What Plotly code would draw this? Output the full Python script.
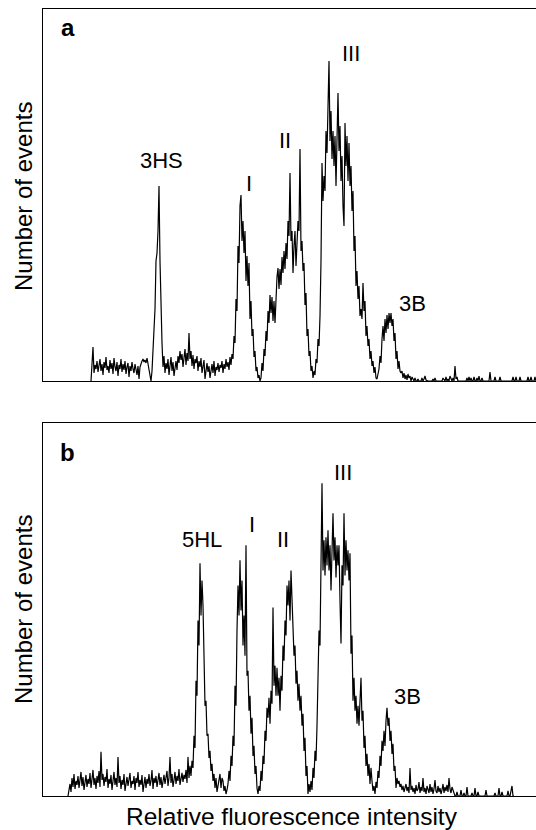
import plotly.graph_objects as go

# Panel a: counts per channel, starting at channel 91
start_a = 91
counts_a = [
    0,18,34,8,16,12,20,9,15,22,
    10,17,6,19,13,24,11,15,8,21,
    12,18,7,23,14,10,19,5,16,12,
    22,9,17,11,20,7,14,18,4,15,
    10,19,12,8,17,13,6,15,2,14,
    18,20,22,19,21,18,23,16,12,4,
    0,10,30,52,72,120,128,150,195,120,
    62,38,14,25,8,18,12,22,6,16,
    24,10,19,5,14,20,11,25,18,30,
    21,27,14,24,32,16,28,20,48,22,
    30,15,26,12,22,18,25,10,20,14,
    23,8,16,21,2,14,18,9,15,3,
    12,17,8,20,5,14,11,18,9,16,
    13,20,8,17,12,22,14,19,11,24,
    16,27,22,45,38,82,70,135,118,175,
    186,140,160,128,150,100,125,95,118,62,
    80,45,52,24,30,10,14,3,6,0,
    3,18,10,32,25,50,40,70,58,86,
    68,84,60,80,58,90,104,113,92,112,
    96,124,108,130,112,138,122,160,145,208,
    140,150,108,135,150,115,140,160,150,232,
    130,140,110,118,76,88,45,52,25,30,
    10,15,3,10,6,22,18,42,35,65,
    120,218,180,205,190,250,228,300,320,240,
    270,222,250,215,245,195,250,288,230,255,
    200,225,175,155,258,215,245,200,238,195,
    215,170,190,130,145,95,110,82,95,65,
    72,62,98,70,80,45,55,35,42,22,
    30,15,20,8,14,3,2,8,12,25,
    18,42,55,40,62,48,66,52,68,58,
    68,55,62,40,48,22,30,12,20,10,
    8,10,3,8,2,6,1,7,3,5,
    0,4,1,0,3,0,0,2,0,0,
    0,3,0,2,5,1,0,0,0,0,
    0,0,2,0,3,0,0,0,0,0,
    0,0,3,1,0,4,0,2,0,5,
    1,0,3,0,15,2,4,0,0,0,
    0,0,0,0,0,0,3,0,4,0,
    3,0,0,4,0,0,3,0,5,0,
    0,3,0,0,0,0,0,0,0,9,
    0,0,0,0,4,0,0,0,0,4,
    0,0,0,0,0,0,0,0,0,0,
    0,0,4,0,0,4,0,0,0,4,
    0,0,0,0,0,0,0,4,0,0,
    4,0,0,0,4,0,
]

# Panel b: counts per channel, starting at channel 68
start_b = 68
counts_b = [
    0,6,12,4,18,9,22,7,15,11,
    20,8,16,24,10,19,6,14,21,9,
    17,12,23,8,15,26,11,18,7,20,
    13,25,9,44,16,22,10,19,14,27,
    8,17,12,21,6,15,24,11,18,9,
    39,13,20,7,16,11,22,5,14,19,
    10,17,23,8,15,12,20,6,18,13,
    24,9,16,11,21,4,14,19,8,17,
    12,22,10,15,26,7,18,13,20,9,
    16,23,11,19,8,14,21,12,17,25,
    10,18,39,13,22,9,16,24,12,20,
    15,27,11,19,23,14,21,17,26,13,
    39,18,30,20,35,28,60,48,115,100,
    175,150,232,180,215,190,140,90,95,60,
    62,38,45,25,32,15,22,8,18,4,
    10,16,22,8,18,15,5,10,2,6,
    12,25,15,40,30,60,50,110,90,165,
    210,180,235,185,215,150,180,140,250,120,
    125,85,100,62,78,40,50,22,30,8,
    2,10,5,25,15,40,32,65,55,88,
    78,98,72,105,92,188,110,130,100,128,
    100,118,85,120,105,150,135,175,160,210,
    190,215,175,225,190,168,140,150,112,125,
    95,112,85,100,70,82,45,58,20,30,
    2,12,4,15,6,28,18,45,35,70,
    110,165,150,225,312,225,255,220,258,230,
    265,225,250,205,265,282,235,258,218,250,
    230,250,195,152,230,210,282,220,255,225,
    245,215,242,142,160,95,118,85,100,72,
    90,70,95,118,75,85,48,60,30,42,
    20,32,12,28,15,5,10,2,14,8,
    25,18,40,30,55,45,65,50,75,88,
    70,78,55,65,42,52,25,30,8,18,
    12,15,9,12,6,10,4,8,12,5,
    9,3,28,6,10,4,8,2,11,5,
    7,14,3,9,5,18,4,8,2,10,
    6,3,12,4,9,2,7,16,5,3,
    10,4,8,2,6,12,3,9,5,11,
    4,18,7,3,9,5,2,0,0,4,
    0,0,0,6,0,0,3,0,0,9,
    0,0,0,0,3,0,0,8,0,0,
    4,0,0,0,0,0,0,0,6,0,
    0,0,0,0,0,0,0,3,0,0,
    0,8,0,0,4,0,0,0,0,0,
    5,0,0,4,10,0,0,
]

labels_a = ["3HS", "I", "II", "III", "3B"]
label_x_a = [161.5, 249, 285, 350.5, 412.5]
label_y_a = [221, 198, 241, 328, 78]

labels_b = ["5HL", "I", "II", "III", "3B"]
label_x_b = [201.7, 252.3, 282.8, 343, 407.2]
label_y_b = [256, 271, 256, 322.5, 99.5]

channels_a = list(range(start_a, start_a + len(counts_a)))
channels_b = list(range(start_b, start_b + len(counts_b)))

FONT = "Liberation Sans, Arial, sans-serif"
W, H = 536, 830
ML, MR, MT, MB = 43, 0, 9, 34
plot_h = H - MT - MB

def fy(py):
    return (H - MB - py) / plot_h

def fx(px):
    return (px - ML) / (W - ML - MR)

fig = go.Figure()
fig.add_trace(go.Scatter(x=channels_a, y=counts_a, mode="lines",
                         line=dict(color="black", width=1.2), xaxis="x", yaxis="y",
                         hoverinfo="skip", showlegend=False))
fig.add_trace(go.Scatter(x=channels_b, y=counts_b, mode="lines",
                         line=dict(color="black", width=1.2), xaxis="x2", yaxis="y2",
                         hoverinfo="skip", showlegend=False))

ax_common = dict(showgrid=False, zeroline=False, showticklabels=False, ticks="",
                 showline=True, linecolor="black", linewidth=1)

fig.update_layout(
    width=W, height=H,
    margin=dict(l=ML, r=MR, t=MT, b=MB, pad=0),
    paper_bgcolor="white", plot_bgcolor="white",
    font=dict(family=FONT, color="black"),
    xaxis=dict(range=[43, 536], domain=[0, 1], anchor="y", mirror=True, **ax_common),
    yaxis=dict(range=[0, 372], domain=[fy(381), 1], anchor="x", mirror=False, **ax_common),
    xaxis2=dict(range=[43, 536], domain=[0, 1], anchor="y2", mirror=True, **ax_common),
    yaxis2=dict(range=[0, 372], domain=[0, fy(423)], anchor="x2", mirror=False, **ax_common),
)

ann = []
for t, x, y in zip(labels_a, label_x_a, label_y_a):
    ann.append(dict(text=t, x=x, y=y, xref="x", yref="y", showarrow=False,
                    xanchor="center", yanchor="middle", font=dict(size=22, family=FONT)))
for t, x, y in zip(labels_b, label_x_b, label_y_b):
    ann.append(dict(text=t, x=x, y=y, xref="x2", yref="y2", showarrow=False,
                    xanchor="center", yanchor="middle", font=dict(size=22, family=FONT)))

ann.append(dict(text="<b>a</b>", x=fx(67.5), y=fy(28), xref="paper", yref="paper",
                showarrow=False, xanchor="center", yanchor="middle", font=dict(size=24, family=FONT)))
ann.append(dict(text="<b>b</b>", x=fx(67.5), y=fy(452), xref="paper", yref="paper",
                showarrow=False, xanchor="center", yanchor="middle", font=dict(size=24, family=FONT)))
ann.append(dict(text="Number of events", x=fx(23), y=fy(197), xref="paper", yref="paper",
                showarrow=False, textangle=-90, xanchor="center", yanchor="middle",
                font=dict(size=24, family=FONT)))
ann.append(dict(text="Number of events", x=fx(23), y=fy(610), xref="paper", yref="paper",
                showarrow=False, textangle=-90, xanchor="center", yanchor="middle",
                font=dict(size=24, family=FONT)))
ann.append(dict(text="Relative fluorescence intensity", x=fx(291.5), y=fy(817), xref="paper", yref="paper",
                showarrow=False, xanchor="center", yanchor="middle", font=dict(size=24.5, family=FONT)))
fig.update_layout(annotations=ann)

fig.write_html("out.html", config=dict(displayModeBar=False),
               post_script="document.body.style.margin='0';document.body.style.overflow='hidden';")
